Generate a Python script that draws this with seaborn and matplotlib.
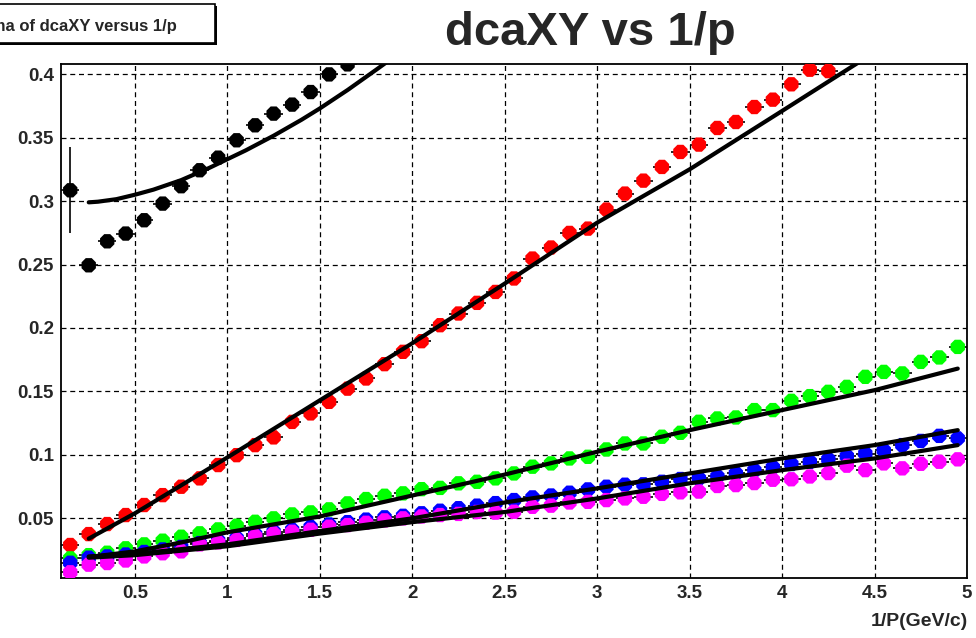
import matplotlib
matplotlib.use("Agg")
import matplotlib.pyplot as plt
import matplotlib.patches as mpatches
from matplotlib.ticker import FixedLocator, FixedFormatter
import seaborn as sns
import pandas as pd
import numpy as np

# ---------------------------------------------------------------- data
# 1/p bin centres (GeV/c)^-1
bin_centres = [0.15, 0.25, 0.35, 0.45, 0.55, 0.65, 0.75, 0.85, 0.95, 1.05,
               1.15, 1.25, 1.35, 1.45, 1.55, 1.65, 1.75, 1.85, 1.95, 2.05,
               2.15, 2.25, 2.35, 2.45, 2.55, 2.65, 2.75, 2.85, 2.95, 3.05,
               3.15, 3.25, 3.35, 3.45, 3.55, 3.65, 3.75, 3.85, 3.95, 4.05,
               4.15, 4.25, 4.35, 4.45, 4.55, 4.65, 4.75, 4.85, 4.95]
bin_half_width = 0.05

# sigma(dcaXY) per bin for each sample (only bins inside the frame)
sigma_black = [0.3085, 0.2494, 0.2683, 0.2744, 0.2849, 0.2980, 0.3117, 0.3243,
               0.3342, 0.3479, 0.3597, 0.3689, 0.3760, 0.3859, 0.3998, 0.4077]
sigma_black_err = [0.034] + [0.0] * 15

sigma_red = [0.0290, 0.0376, 0.0455, 0.0526, 0.0605, 0.0683, 0.0749, 0.0815,
             0.0920, 0.0998, 0.1077, 0.1138, 0.1260, 0.1327, 0.1418, 0.1522,
             0.1602, 0.1715, 0.1812, 0.1896, 0.2022, 0.2114, 0.2198, 0.2284,
             0.2390, 0.2547, 0.2634, 0.2749, 0.2783, 0.2933, 0.3059, 0.3161,
             0.3269, 0.3387, 0.3445, 0.3576, 0.3623, 0.3741, 0.3799, 0.3920,
             0.4035, 0.4024]

sigma_green = [0.0185, 0.0210, 0.0229, 0.0264, 0.0295, 0.0324, 0.0355, 0.0382,
               0.0413, 0.0442, 0.0473, 0.0500, 0.0531, 0.0547, 0.0571, 0.0618,
               0.0652, 0.0678, 0.0697, 0.0730, 0.0740, 0.0776, 0.0788, 0.0815,
               0.0854, 0.0907, 0.0933, 0.0972, 0.0985, 0.1043, 0.1090, 0.1090,
               0.1143, 0.1174, 0.1261, 0.1287, 0.1295, 0.1353, 0.1353, 0.1426,
               0.1463, 0.1497, 0.1536, 0.1615, 0.1654, 0.1642, 0.1733, 0.1768,
               0.1851]

sigma_blue = [0.0150, 0.0190, 0.0200, 0.0215, 0.0235, 0.0255, 0.0275, 0.0305,
              0.0325, 0.0345, 0.0375, 0.0395, 0.0410, 0.0432, 0.0452, 0.0470,
              0.0490, 0.0508, 0.0520, 0.0540, 0.0560, 0.0580, 0.0600, 0.0620,
              0.0644, 0.0665, 0.0680, 0.0702, 0.0728, 0.0749, 0.0765, 0.0768,
              0.0788, 0.0810, 0.0815, 0.0830, 0.0854, 0.0878, 0.0902, 0.0928,
              0.0946, 0.0965, 0.0990, 0.1010, 0.1035, 0.1077, 0.1110, 0.1150,
              0.1130]

sigma_magenta = [0.0075, 0.0135, 0.0148, 0.0168, 0.0200, 0.0225, 0.0240, 0.0295,
                 0.0310, 0.0330, 0.0360, 0.0380, 0.0394, 0.0410, 0.0434, 0.0447,
                 0.0465, 0.0484, 0.0500, 0.0515, 0.0526, 0.0535, 0.0550, 0.0545,
                 0.0552, 0.0591, 0.0600, 0.0625, 0.0630, 0.0644, 0.0657, 0.0670,
                 0.0693, 0.0705, 0.0711, 0.0755, 0.0762, 0.0778, 0.0804, 0.0808,
                 0.0830, 0.0857, 0.0915, 0.0880, 0.0933, 0.0894, 0.0930, 0.0946,
                 0.0965]

# fitted resolution curves, sampled along 1/p
fit_black_x = [0.25, 0.30, 0.40, 0.50, 0.60, 0.75, 0.90, 1.00, 1.10, 1.25,
               1.40, 1.50, 1.65, 1.80, 2.00]
fit_black_y = [0.2990, 0.2995, 0.3015, 0.3050, 0.3090, 0.3165, 0.3260, 0.3330,
               0.3400, 0.3515, 0.3640, 0.3730, 0.3875, 0.4030, 0.4240]
fit_red_x = [0.25, 0.50, 1.00, 1.50, 2.00, 2.50, 3.00, 3.50, 4.00, 4.40, 4.60]
fit_red_y = [0.034, 0.054, 0.098, 0.143, 0.188, 0.235, 0.283, 0.325, 0.371, 0.408, 0.426]
fit_green_x = [0.25, 0.50, 0.75, 1.00, 1.50, 2.00, 2.50, 3.00, 3.50, 4.00, 4.50, 4.95]
fit_green_y = [0.0195, 0.024, 0.031, 0.039, 0.0515, 0.068, 0.0845, 0.1025, 0.1195,
               0.1353, 0.151, 0.168]
fit_blue_x = [0.25, 0.50, 1.00, 1.50, 2.00, 2.50, 3.00, 3.50, 4.00, 4.50, 4.95]
fit_blue_y = [0.020, 0.022, 0.0295, 0.040, 0.050, 0.0625, 0.0736, 0.0854, 0.0972,
              0.1077, 0.1195]
fit_magenta_x = [0.25, 0.50, 1.00, 1.50, 2.00, 2.50, 3.00, 3.50, 4.00, 4.50, 4.95]
fit_magenta_y = [0.019, 0.021, 0.028, 0.038, 0.047, 0.055, 0.0657, 0.0776, 0.088,
                 0.0972, 0.1077]

x_major = [0.5, 1.0, 1.5, 2.0, 2.5, 3.0, 3.5, 4.0, 4.5, 5.0]
x_labels = ["0.5", "1", "1.5", "2", "2.5", "3", "3.5", "4", "4.5", "5"]
y_major = [0.05, 0.10, 0.15, 0.20, 0.25, 0.30, 0.35, 0.40]
y_labels = ["0.05", "0.1", "0.15", "0.2", "0.25", "0.3", "0.35", "0.4"]

# ---------------------------------------------------------------- tables
series = {
    "black": (sigma_black, sigma_black_err),
    "red": (sigma_red, None),
    "green": (sigma_green, None),
    "blue": (sigma_blue, None),
    "magenta": (sigma_magenta, None),
}
palette = {"black": "#000000", "red": "#ff0000", "green": "#00ff00",
           "blue": "#0000ff", "magenta": "#ff00ff"}

rows = []
for name, (vals, errs) in series.items():
    for i, v in enumerate(vals):
        rows.append({"sample": name, "inv_p": bin_centres[i], "sigma": v,
                     "yerr": errs[i] if errs else 0.0})
points = pd.DataFrame(rows)

fits = pd.concat([
    pd.DataFrame({"sample": name, "inv_p": fx, "sigma": fy})
    for name, fx, fy in [("black", fit_black_x, fit_black_y),
                         ("red", fit_red_x, fit_red_y),
                         ("green", fit_green_x, fit_green_y),
                         ("blue", fit_blue_x, fit_blue_y),
                         ("magenta", fit_magenta_x, fit_magenta_y)]
], ignore_index=True)

# ---------------------------------------------------------------- style
sns.set_style("white")
plt.rcParams["font.family"] = ["Liberation Sans", "DejaVu Sans"]

W, H = 976, 638
fig = plt.figure(figsize=(W / 100, H / 100), dpi=100)
fig.patch.set_facecolor("white")
ax = fig.add_axes([61 / W, 1 - 578 / H, (967 - 61) / W, (578 - 64) / H])

# bin-width error bars sit under the markers
for name in series:
    sub = points[points["sample"] == name]
    ax.errorbar(sub["inv_p"], sub["sigma"], xerr=bin_half_width,
                yerr=sub["yerr"], fmt="none", ecolor="black",
                elinewidth=1.2, capsize=0, zorder=2)

sns.scatterplot(data=points, x="inv_p", y="sigma", hue="sample",
                palette=palette, marker="8", s=125, linewidth=0,
                legend=False, ax=ax, zorder=3)

sns.lineplot(data=fits, x="inv_p", y="sigma", units="sample",
             estimator=None, sort=False, color="black", linewidth=3.0,
             ax=ax, zorder=4)

ax.set_xlim(0.1, 5.0)
ax.set_ylim(0.003, 0.408)

ax.xaxis.set_major_locator(FixedLocator(x_major))
ax.xaxis.set_major_formatter(FixedFormatter(x_labels))
ax.xaxis.set_minor_locator(FixedLocator([v / 10 for v in range(1, 51)]))
ax.yaxis.set_major_locator(FixedLocator(y_major))
ax.yaxis.set_major_formatter(FixedFormatter(y_labels))
ax.yaxis.set_minor_locator(FixedLocator([v / 100 for v in range(1, 41)]))

ax.tick_params(axis="both", which="both", direction="in", color="black",
               width=1.1, top=False, right=False)
ax.tick_params(axis="y", which="major", length=20, pad=5)
ax.tick_params(axis="y", which="minor", length=10)
ax.tick_params(axis="x", which="major", length=10, pad=5)
ax.tick_params(axis="x", which="minor", length=6)
for lab in ax.get_xticklabels() + ax.get_yticklabels():
    lab.set_fontweight("bold")
    lab.set_fontsize(13.5)

ax.grid(which="major", color="black", linestyle=(0, (4, 3)), linewidth=0.9)
ax.set_axisbelow(True)
for sp in ax.spines.values():
    sp.set_visible(True)
    sp.set_color("black")
    sp.set_linewidth(1.3)

ax.set_xlabel("")
ax.set_ylabel("")

# titles and axis caption
fig.text(590 / W, 1 - 33 / H, "dcaXY vs 1/p", ha="center", va="center",
         fontsize=34, fontweight="bold")
fig.text(968 / W, 1 - 622 / H, "1/P(GeV/c)", ha="right", va="center",
         fontsize=14, fontweight="bold")

# histogram-title pave with a thin drop shadow
shadow = mpatches.Rectangle((-8 / W, 1 - 45 / H), 225 / W, 39 / H,
                            transform=fig.transFigure, facecolor="black",
                            edgecolor="black", linewidth=0)
box = mpatches.Rectangle((-10 / W, 1 - 43 / H), 225 / W, 39 / H,
                         transform=fig.transFigure, facecolor="white",
                         edgecolor="black", linewidth=1.2)
fig.patches.extend([shadow, box])
fig.text(177 / W, 1 - 26 / H, "sigma of dcaXY versus 1/p", ha="right",
         va="center", fontsize=12, fontweight="bold")

fig.savefig("out.png", dpi=100)
